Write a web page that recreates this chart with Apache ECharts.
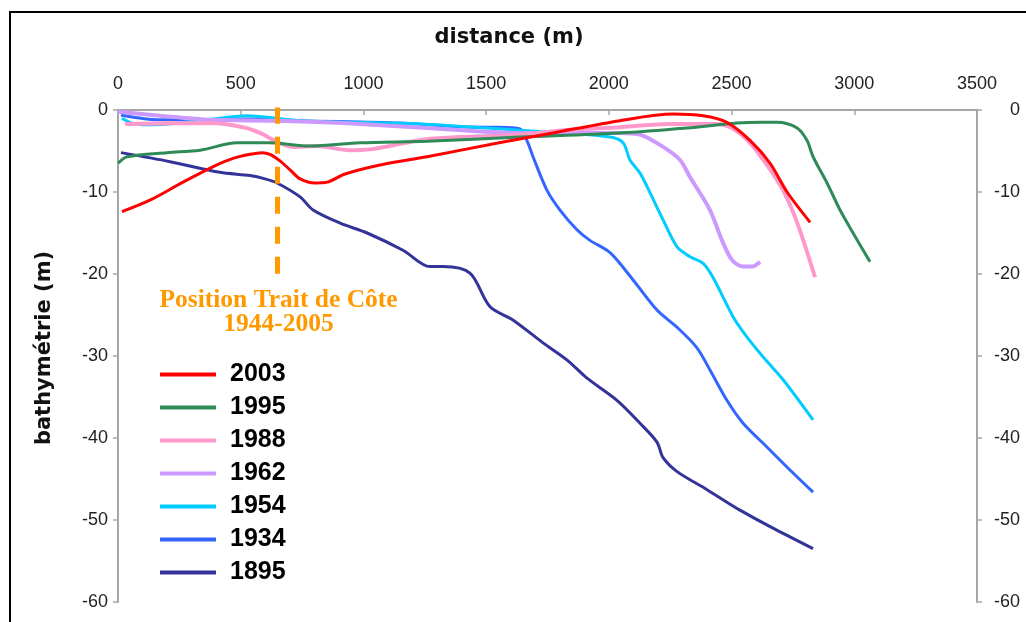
<!DOCTYPE html>
<html>
<head>
<meta charset="utf-8">
<title>Profils bathymétriques</title>
<script src="https://cdn.jsdelivr.net/npm/echarts@6/dist/echarts.min.js"></script>
<style>
  html, body { margin: 0; padding: 0; background: #fff; }
  #chart { width: 1026px; height: 622px; }
</style>
</head>
<body>
<div id="chart"></div>
<script>
// Survey years, in legend order, with their line colours
const years = ['2003', '1995', '1988', '1962', '1954', '1934', '1895'];
const colors = ['#FF0000', '#2E8B57', '#FF99CC', '#CC99FF', '#00CCFF', '#3366FF', '#333399'];
const widths = [3, 3, 4, 4, 3, 3, 3];

// Profiles: [distance (m), bathymetry (m)]
const p2003 = [[16,-12.4],[130,-11.0],[265,-8.8],[403,-6.7],[469,-5.9],[538,-5.4],[587,-5.2],[619,-5.4],[660,-6.2],[701,-7.3],[742,-8.4],[803,-8.9],[852,-8.8],[925,-7.8],[1068,-6.7],[1259,-5.7],[1569,-3.9],[1772,-2.8],[2045,-1.3],[2261,-0.5],[2384,-0.7],[2481,-1.5],[2575,-3.7],[2657,-6.5],[2726,-10.0],[2820,-13.7]];
const p1995 = [[0,-6.5],[37,-5.7],[200,-5.2],[334,-4.9],[485,-4.0],[619,-4.0],[782,-4.4],[986,-4.0],[1259,-3.8],[1638,-3.3],[2045,-2.8],[2318,-2.2],[2522,-1.6],[2628,-1.5],[2685,-1.5],[2767,-2.2],[2807,-3.7],[2832,-5.7],[2889,-8.9],[2942,-12.2],[2995,-15.0],[3064,-18.5]];
const p1988 = [[29,-1.7],[375,-1.6],[509,-2.1],[579,-2.8],[648,-3.9],[713,-4.5],[811,-4.4],[945,-4.9],[1027,-4.8],[1190,-3.9],[1271,-3.5],[1638,-3.0],[1842,-2.4],[2045,-2.1],[2249,-1.7],[2441,-1.7],[2506,-2.3],[2575,-4.0],[2644,-6.7],[2710,-9.8],[2767,-13.7],[2840,-20.4]];
const p1962 = [[0,-0.2],[171,-0.7],[375,-1.2],[648,-1.3],[917,-1.6],[1259,-2.2],[1638,-2.8],[2045,-2.8],[2127,-3.0],[2221,-4.5],[2290,-6.1],[2331,-8.2],[2412,-12.2],[2461,-15.9],[2502,-18.3],[2547,-19.1],[2583,-19.1],[2616,-18.5]];
const p1954 = [[16,-1.0],[69,-1.7],[151,-1.8],[334,-1.3],[526,-0.7],[742,-1.3],[1231,-1.7],[1504,-2.2],[1801,-2.8],[2005,-3.3],[2058,-4.0],[2086,-6.1],[2127,-7.7],[2168,-10.1],[2221,-13.4],[2278,-16.7],[2331,-17.9],[2384,-18.7],[2424,-20.4],[2506,-25.2],[2563,-27.7],[2628,-30.1],[2710,-32.9],[2832,-37.8]];
const p1934 = [[12,-0.6],[171,-1.2],[538,-1.1],[742,-1.3],[1149,-1.6],[1475,-2.1],[1556,-2.1],[1638,-2.3],[1666,-3.7],[1691,-5.7],[1748,-9.8],[1801,-12.2],[1870,-14.6],[1923,-15.9],[2005,-17.4],[2098,-20.7],[2196,-24.4],[2278,-26.5],[2359,-29.0],[2412,-31.7],[2481,-35.4],[2547,-38.2],[2644,-41.1],[2738,-43.9],[2832,-46.6]];
const p1895 = [[12,-5.2],[212,-6.3],[415,-7.6],[538,-8.0],[599,-8.4],[648,-8.9],[742,-10.6],[795,-12.2],[905,-13.8],[1015,-15.0],[1161,-17.1],[1271,-19.1],[1324,-19.1],[1434,-19.9],[1516,-24.0],[1609,-25.6],[1732,-28.4],[1830,-30.5],[1911,-32.7],[2033,-35.4],[2127,-38.2],[2196,-40.5],[2221,-42.4],[2278,-44.1],[2400,-46.3],[2534,-48.8],[2669,-51.0],[2832,-53.5]];
const profiles = [p2003, p1995, p1988, p1962, p1954, p1934, p1895];

// Axis ranges
const distTicks = { min: 0, max: 3500, step: 500 };
const depthTicks = { min: -60, max: 0, step: 10 };

// Shoreline position marker (1944-2005)
const shorelineDist = 650;
const shorelineTop = 0.4;
const shorelineDepth = -20;
const shorelineText = ['Position Trait de Côte', '1944-2005'];

const axisGrey = '#a6a6a6';
const tickFont = { fontFamily: 'Liberation Sans, Arial, sans-serif', fontSize: 18, color: '#222' };
const plain = v => String(v);

const chart = echarts.init(document.getElementById('chart'), null, { renderer: 'canvas' });

const series = years.map((y, i) => ({
  name: y,
  type: 'line',
  data: profiles[i],
  smooth: 0.3,
  showSymbol: false,
  symbol: 'none',
  z: 10 - i,
  lineStyle: { color: colors[i], width: widths[i] },
  itemStyle: { color: colors[i] },
  emphasis: { disabled: true }
})).reverse();

// vertical dashed line for the shoreline position
series.push({
  name: 'shoreline',
  type: 'line',
  data: [[shorelineDist, shorelineTop], [shorelineDist, shorelineDepth]],
  symbol: 'none',
  showSymbol: false,
  silent: true,
  z: 20,
  lineStyle: { color: '#FF9900', width: 5, type: [17, 13], cap: 'butt' },
  emphasis: { disabled: true }
});

const yAxisBase = {
  type: 'value',
  min: depthTicks.min,
  max: depthTicks.max,
  interval: depthTicks.step,
  splitLine: { show: false },
  axisLine: { show: true, lineStyle: { color: axisGrey, width: 2 } },
  axisTick: { show: true, length: 5, lineStyle: { color: axisGrey, width: 1.5 } },
  axisLabel: Object.assign({ margin: 10, formatter: plain }, tickFont)
};

chart.setOption({
  backgroundColor: '#fff',
  animation: false,
  grid: { left: 118, right: 49, top: 110, bottom: 20, containLabel: false },
  xAxis: {
    type: 'value',
    position: 'top',
    min: distTicks.min,
    max: distTicks.max,
    interval: distTicks.step,
    splitLine: { show: false },
    axisLine: { show: true, onZero: false, lineStyle: { color: axisGrey, width: 2 } },
    axisTick: { show: true, inside: true, length: 5, lineStyle: { color: axisGrey, width: 1.5 } },
    axisLabel: Object.assign({ margin: 17, formatter: plain }, tickFont)
  },
  yAxis: [
    Object.assign({ position: 'left' }, yAxisBase),
    Object.assign({ position: 'right' }, yAxisBase, {
      axisLabel: Object.assign({ margin: 43, align: 'right', formatter: plain }, tickFont)
    })
  ],
  legend: {
    orient: 'vertical',
    left: 160,
    top: 362,
    padding: 0,
    data: years,
    icon: 'rect',
    itemWidth: 56,
    itemHeight: 4,
    itemGap: 8,
    selectedMode: false,
    textStyle: {
      fontFamily: 'Liberation Sans, Arial, sans-serif',
      fontWeight: 'bold',
      fontSize: 25,
      lineHeight: 25,
      color: '#000',
      padding: [0, 0, 0, 9]
    }
  },
  series: series,
  graphic: [
    {
      type: 'rect',
      silent: true,
      shape: { x: 10, y: 12, width: 1040, height: 640 },
      style: { fill: 'none', stroke: '#000', lineWidth: 2 }
    },
    {
      type: 'text',
      silent: true,
      x: 509, y: 38,
      style: {
        text: 'distance (m)',
        fontFamily: 'DejaVu Sans, sans-serif',
        fontWeight: 'bold',
        fontSize: 21,
        fill: '#111',
        align: 'center',
        verticalAlign: 'middle'
      }
    },
    {
      type: 'text',
      silent: true,
      x: 45, y: 348,
      rotation: Math.PI / 2,
      style: {
        text: 'bathymétrie (m)',
        fontFamily: 'DejaVu Sans, sans-serif',
        fontWeight: 'bold',
        fontSize: 21,
        fill: '#111',
        align: 'center',
        verticalAlign: 'middle'
      }
    }
  ]
});

// Shoreline caption, anchored under the dashed marker in data space
const anchor = chart.convertToPixel({ gridIndex: 0 }, [shorelineDist, shorelineDepth]);
chart.setOption({
  graphic: [
    {
      type: 'text',
      id: 'shoreline-caption',
      silent: true,
      x: anchor[0] + 1,
      y: anchor[1] + 14,
      style: {
        text: shorelineText.join('\n'),
        fontFamily: 'Liberation Serif, Times New Roman, serif',
        fontWeight: 'bold',
        fontSize: 25.5,
        lineHeight: 24,
        fill: '#FF9900',
        align: 'center',
        verticalAlign: 'top'
      }
    }
  ]
});
</script>
</body>
</html>
